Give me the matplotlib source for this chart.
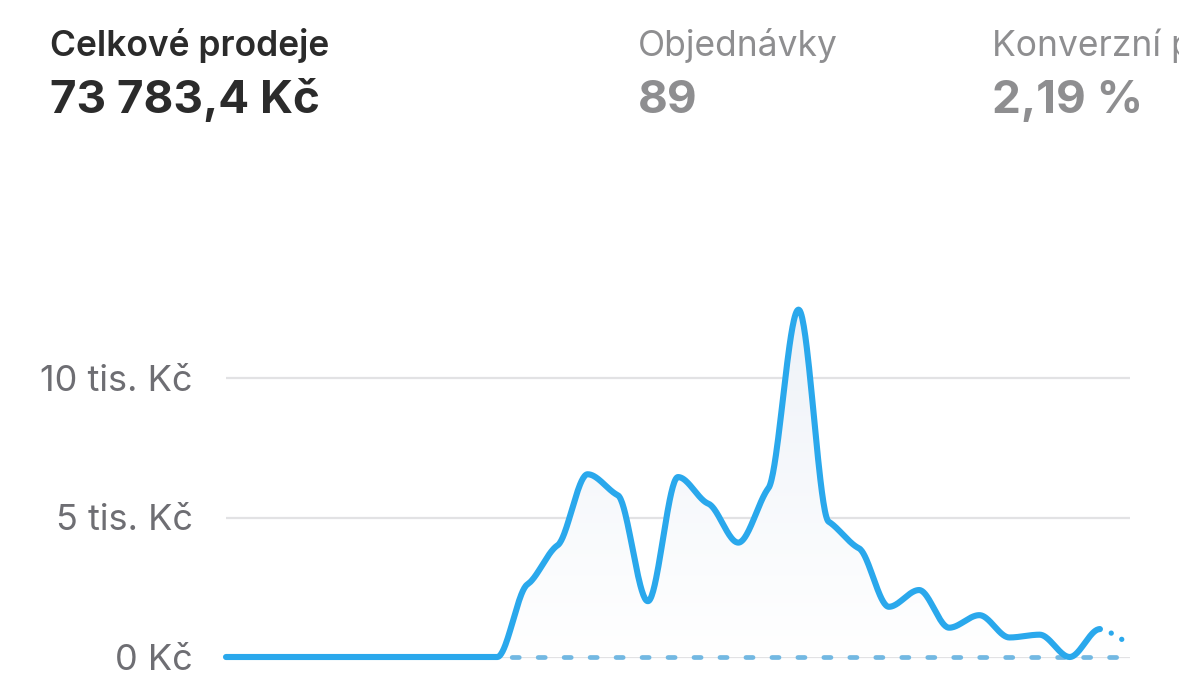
import numpy as np
import matplotlib
matplotlib.use("Agg")
import matplotlib.pyplot as plt
from matplotlib.colors import LinearSegmentedColormap

# daily sales (Kč), one value per day
days = list(range(31))
sales = [0, 0, 0, 0, 0, 0, 0, 0, 0, 0,
         2600, 4000, 6550, 5800, 2000, 6450, 5500, 4100, 6050, 12450,
         4850, 3900, 1800, 2400, 1050, 1500, 700, 800, 0, 1000, 550]
previous = [0] * 31

yticks = [0, 5000, 10000]
ytick_labels = ["0 Kč", "5 tis. Kč", "10 tis. Kč"]

headers = ["Celkové prodeje", "Objednávky", "Konverzní poměr"]
header_values = ["73 783,4 Kč", "89", "2,19 %"]

W, H = 1179, 695
FONT = "Inter"


def smooth_curve(x, y, tension=0.35, steps=40):
    # cubic hermite with damped monotone tangents (flat shoulders at each day)
    x = np.asarray(x, float)
    y = np.asarray(y, float)
    h = np.diff(x)
    s = np.diff(y) / h
    n = len(x)
    t = np.zeros(n)
    for i in range(1, n - 1):
        s0, s1 = s[i - 1], s[i]
        p = (s0 * h[i] + s1 * h[i - 1]) / (h[i - 1] + h[i])
        t[i] = (np.sign(s0) + np.sign(s1)) * min(abs(s0), abs(s1), 0.5 * abs(p))
    t *= tension
    xs, ys = [], []
    for i in range(n - 1):
        u = np.linspace(0, 1, steps, endpoint=False)
        h00 = 2 * u**3 - 3 * u**2 + 1
        h10 = u**3 - 2 * u**2 + u
        h01 = -2 * u**3 + 3 * u**2
        h11 = u**3 - u**2
        xs.append(x[i] + u * h[i])
        ys.append(h00 * y[i] + h10 * h[i] * t[i] + h01 * y[i + 1] + h11 * h[i] * t[i + 1])
    xs.append([x[-1]])
    ys.append([y[-1]])
    return np.concatenate(xs), np.concatenate(ys)


fig = plt.figure(figsize=(W / 100, H / 100), dpi=100)
fig.patch.set_facecolor("white")

# axes placed so 0 sits at y=657px, 10k at 378px
left, right = 226, 1130
ymin, ymax = -1000, 13000
px_per = (657 - 378) / 10000
bot_px = 657 + (0 - ymin) * px_per
top_px = 657 - ymax * px_per
ax = fig.add_axes([left / W, (H - bot_px) / H, (right - left) / W, (bot_px - top_px) / H])
ax.set_xlim(0, 30)
ax.set_ylim(ymin, ymax)
for sp in ax.spines.values():
    sp.set_visible(False)
ax.set_xticks([])
ax.set_yticks(yticks)
ax.set_yticklabels(ytick_labels, fontsize=26, color="#6e6e73", family=FONT)
ax.tick_params(axis="y", length=0, pad=24)
for v in yticks:
    ax.axhline(v, color="#e2e2e4", lw=1.6, zorder=1)

cx, cy = smooth_curve(days, sales)
split = days[-2]

# soft gradient fill under the curve
fill = ax.fill_between(cx, 0, cy, color="none", lw=0, zorder=2)
cmap = LinearSegmentedColormap.from_list("fade", ["#ffffff", "#eef2f8"])
grad = ax.imshow(np.linspace(0, 1, 256).reshape(-1, 1), cmap=cmap, aspect="auto",
                 extent=(0, 30, 0, max(sales)), origin="lower", zorder=2)
grad.set_clip_path(fill.get_paths()[0], transform=ax.transData)
ax.set_xlim(0, 30)
ax.set_ylim(ymin, ymax)

# comparison period (dashed)
ax.plot(days, previous, color="#72b8e2", lw=3.4, ls=(0, (1.5, 4.0)),
        dash_capstyle="round", zorder=3, clip_on=False)

ax.plot(cx[cx <= split], cy[cx <= split], color="#2aa8ec", lw=4.4, solid_capstyle="round",
        solid_joinstyle="round", zorder=4, clip_on=False)
ax.plot(cx[cx >= split], cy[cx >= split], color="#2aa8ec", lw=3.8, ls=(0, (0.01, 2.3)),
        dash_capstyle="round", zorder=4, clip_on=False)

# header texts
fig.text(50 / W, 1 - 56 / H, headers[0], fontsize=25.5, fontweight="semibold",
         color="#2b2b2b", family=FONT, va="baseline")
fig.text(50 / W, 1 - 113 / H, header_values[0], fontsize=33, fontweight="bold",
         color="#2b2b2b", family=FONT, va="baseline")
fig.text(638 / W, 1 - 56 / H, headers[1], fontsize=25.5, color="#8e8e90",
         family=FONT, va="baseline")
fig.text(638 / W, 1 - 113 / H, header_values[1], fontsize=33, fontweight="bold",
         color="#8e8e90", family=FONT, va="baseline")
fig.text(992 / W, 1 - 56 / H, headers[2], fontsize=25.5, color="#8e8e90",
         family=FONT, va="baseline")
fig.text(992 / W, 1 - 113 / H, header_values[2], fontsize=33, fontweight="bold",
         color="#8e8e90", family=FONT, va="baseline")

fig.savefig("out.png", dpi=100, facecolor="white")
